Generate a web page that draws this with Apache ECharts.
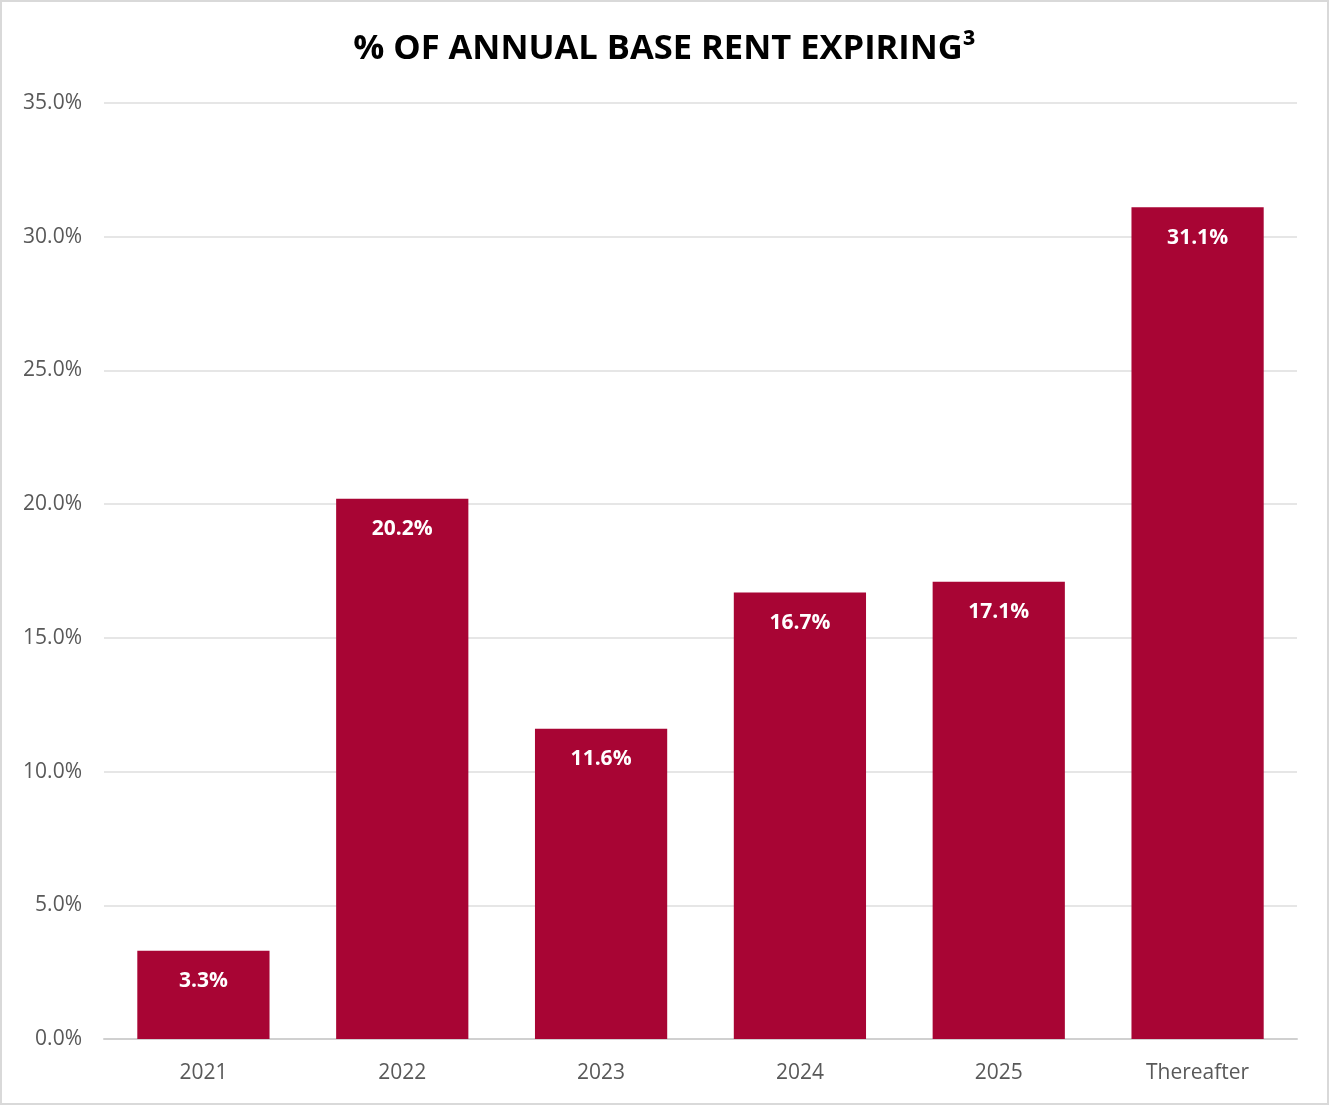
<!DOCTYPE html>
<html><head><meta charset="utf-8">
<script src="https://cdn.jsdelivr.net/npm/echarts@6/dist/echarts.min.js"></script>
<style>html,body{margin:0;padding:0;background:#fff}#c{width:1329px;height:1105px;box-sizing:border-box;border:2px solid #d9d9d9}</style>
</head><body><div id="c"></div>
<script>
const categories = ['2021','2022','2023','2024','2025','Thereafter'];
const values = [3.3, 20.2, 11.6, 16.7, 17.1, 31.1];
const titleText = '% OF ANNUAL BASE RENT EXPIRING³';
const font = '"Open Sans", "Noto Sans", sans-serif';
const chart = echarts.init(document.getElementById('c'));
chart.setOption({
  animation:false,
  title:{text:titleText,left:'center',top:25,textStyle:{fontFamily:font,fontSize:34.5,fontWeight:'bold',color:'#000'}},
  grid:{left:102,right:30,top:101,bottom:64},
  xAxis:{type:'category',data:categories,
    axisLine:{lineStyle:{color:'#d0d0d0',width:2}},axisTick:{show:false},
    axisLabel:{fontFamily:font,fontSize:21,color:'#595959',margin:24}},
  yAxis:{type:'value',min:0,max:35,interval:5,
    axisLine:{show:false},axisTick:{show:false},
    splitLine:{lineStyle:{color:'#e6e6e6',width:2}},
    axisLabel:{fontFamily:font,fontSize:21,color:'#595959',margin:22,formatter:v=>v.toFixed(1)+'%'}},
  series:[{type:'bar',data:values,barWidth:'66.5%',itemStyle:{color:'#A80534'},
    label:{show:true,position:'insideTop',distance:20,fontFamily:font,fontSize:21,fontWeight:'bold',color:'#fff',formatter:p=>p.value.toFixed(1)+'%'}}]
});
</script></body></html>
